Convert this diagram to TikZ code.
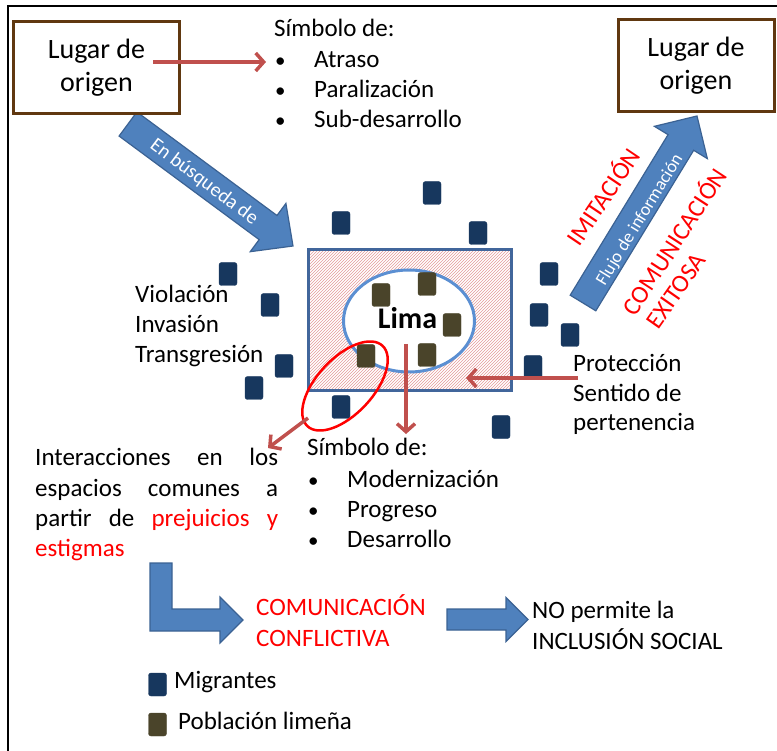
\documentclass[tikz,border=0pt]{standalone}
\usepackage{fontspec}
\setmainfont{Carlito}
\usetikzlibrary{arrows.meta,patterns,calc,shapes.geometric}
\definecolor{boxbrown}{HTML}{603810}
\definecolor{arrowblue}{HTML}{4F81BD}
\definecolor{arrowedge}{HTML}{3B6293}
\definecolor{navy}{HTML}{17375E}
\definecolor{olivebrown}{HTML}{4A442A}
\definecolor{darrow}{HTML}{C0504D}
\definecolor{hatchred}{HTML}{E39A9A}
\definecolor{limaedge}{HTML}{41669B}
\definecolor{ringblue}{HTML}{5B8FD2}
\newcommand{\blockarr}[5]{%
  \coordinate (#2b) at ($(#2)!#5!(#1)$);
  \filldraw[bigarrow] ($(#1)!#3!90:(#2)$) -- ($(#2b)!#3!90:(#2)$) -- ($(#2b)!#4!90:(#2)$) -- (#2)
     -- ($(#2b)!#4!-90:(#2)$) -- ($(#2b)!#3!-90:(#2)$) -- ($(#1)!#3!-90:(#2)$) -- cycle;}
\begin{document}
\begin{tikzpicture}[x=1pt,y=-1pt,font=\fontsize{25}{30}\selectfont,
  txt/.style={inner sep=0pt,anchor=base west},
  bul/.style={inner sep=0pt,anchor=base west,font=\fontsize{21}{25}\selectfont},
  origbox/.style={draw=boxbrown,line width=3pt,fill=white,align=center,inner sep=0pt,
    minimum width=#1,minimum height=92pt,font=\fontsize{28}{33}\selectfont},
  bigarrow/.style={fill=arrowblue,draw=arrowedge,line width=1.2pt,line join=miter},
  redarr/.style={draw=darrow,line width=3.5pt,-{Straight Barb[length=8pt,width=18pt]}},
  migsq/.style={fill=navy,draw=navy,rounded corners=2.5pt,minimum width=18pt,minimum height=23pt,inner sep=0pt},
  limsq/.style={fill=olivebrown,draw=olivebrown,rounded corners=2.5pt,minimum width=18pt,minimum height=23pt,inner sep=0pt},
  redtxt/.style={text=red,inner sep=0pt}]
\useasboundingbox (0,0) rectangle (777,751);
\draw[line width=2pt] (8,751) -- (8,6) -- (777,6);

% blue arrows
\coordinate (a1t) at (128,124);
\coordinate (a1h) at (293,246);
\blockarr{a1t}{a1h}{15pt}{30pt}{31pt}
\node[text=white,rotate=-37,font=\fontsize{20}{24}\selectfont,inner sep=0pt] (busq) at (204,182) {En búsqueda de};
\coordinate (a2t) at (583,303);
\coordinate (a2h) at (697,116);
\blockarr{a2t}{a2h}{15pt}{31pt}{31pt}
\node[text=white,rotate=58.6,font=\fontsize{18}{22}\selectfont,inner sep=0pt] (flujo) at (640,220) {Flujo de información};

% boxes
\node[origbox=166pt] (lo) at (96.5,67.5) {Lugar de\\origen};
\node[origbox=156pt] (ro) at (696,65.5) {Lugar de\\origen};

% top list
\node[txt] (s1) at (274,37) {Símbolo de:};
\node[bul] (b1) at (275,68) {•};
\node[txt] (i1) at (314,68) {Atraso};
\node[bul] (b2) at (275,98) {•};
\node[txt] (i2) at (314,98) {Paralización};
\node[bul] (b3) at (275,128) {•};
\node[txt] (i3) at (314,128) {Sub-desarrollo};
\coordinate (r1s) at (153,62);
\coordinate (r1e) at (266,62);
\draw[redarr] (r1s) -- (r1e);

% Lima area
\node[draw=limaedge,line width=3pt,pattern=north east lines,pattern color=hatchred,
  minimum width=203pt,minimum height=141pt,inner sep=0pt] (area) at (410,320) {};
\node[ellipse,draw=ringblue,line width=3pt,fill=white,minimum width=131pt,minimum height=102pt,inner sep=0pt] (ring) at (409,321) {};
\node[limsq] (l1) at (381,295) {};
\node[limsq] (l2) at (427,284) {};
\node[limsq] (l3) at (452,325) {};
\node[limsq] (l4) at (366,356) {};
\node[limsq] (l5) at (427,355) {};
\node[font=\fontsize{30}{36}\selectfont\bfseries,inner sep=0pt,anchor=base] (lima) at (407.5,329) {Lima};

% migrants
\node[migsq] (m1) at (432,193) {};
\node[migsq] (m2) at (341,223) {};
\node[migsq] (m3) at (478,233) {};
\node[migsq] (m4) at (228,274) {};
\node[migsq] (m5) at (270,305) {};
\node[migsq] (m6) at (549,274) {};
\node[migsq] (m7) at (539,315) {};
\node[migsq] (m8) at (570,335) {};
\node[migsq] (m9) at (284,366) {};
\node[migsq] (m10) at (254,388) {};
\node[migsq] (m11) at (341,407) {};
\node[migsq] (m12) at (533,367) {};
\node[migsq] (m13) at (501,427) {};

% red rotated texts
\node[redtxt,rotate=56] (imit) at (602,196) {IMITACIÓN};
\node[redtxt,rotate=57] (comex) at (673,241) {COMUNICACIÓN};
\node[redtxt,rotate=55] (exit) at (676,291) {EXITOSA};

% left texts
\node[txt] (v1) at (135,303) {Violación};
\node[txt] (v2) at (135,333) {Invasión};
\node[txt] (v3) at (135,363) {Transgresión};

% right texts
\node[txt] (p1) at (573,372) {Protección};
\node[txt] (p2) at (573,402) {Sentido de};
\node[txt] (p3) at (573,431) {pertenencia};
\coordinate (r3s) at (578,378);
\coordinate (r3e) at (466,378);
\draw[redarr] (r3s) -- (r3e);

% red ellipse and arrows
\coordinate (ec) at (345,386);
\draw[red,line width=2.5pt,rotate around={47:(ec)}] (ec) ellipse [x radius=55, y radius=28];
\coordinate (r2s) at (308,418);
\coordinate (r2e) at (268,448);
\draw[redarr] (r2s) -- (r2e);
\coordinate (r4s) at (406,344);
\coordinate (r4e) at (406,434);
\draw[redarr] (r4s) -- (r4e);

% lower list
\node[txt] (s2) at (307,455) {Símbolo de:};
\node[bul] (c1) at (308,487) {•};
\node[txt] (j1) at (347,487) {Modernización};
\node[bul] (c2) at (308,517) {•};
\node[txt] (j2) at (347,517) {Progreso};
\node[bul] (c3) at (308,547) {•};
\node[txt] (j3) at (347,547) {Desarrollo};

% interactions paragraph
\node[txt] (t1) at (35,465) {\makebox[243pt][s]{Interacciones en los}};
\node[txt] (t2) at (35,496) {\makebox[243pt][s]{espacios comunes a}};
\node[txt] (t3) at (35,526) {\makebox[243pt][s]{partir de \textcolor{red}{prejuicios} \textcolor{red}{y}}};
\node[txt,text=red] (t4) at (35,556) {estigmas};

% bottom flow
\filldraw[bigarrow] (150,563) -- (172,563) -- (172,609) -- (220,609) -- (220,597) -- (243,620)
  -- (220,643) -- (220,631) -- (150,631) -- cycle;
\node[txt,text=red] (cc1) at (256,615) {COMUNICACIÓN};
\node[txt,text=red] (cc2) at (256,646) {CONFLICTIVA};
\coordinate (a3t) at (447,619.5);
\coordinate (a3h) at (528,619.5);
\blockarr{a3t}{a3h}{10.5pt}{22pt}{22pt}
\node[txt] (n1) at (532,618) {NO permite la};
\node[txt] (n2) at (532,649) {INCLUSIÓN SOCIAL};

% legend
\node[migsq] (lg1) at (157.5,684.5) {};
\node[txt] (lgt1) at (174,688) {Migrantes};
\node[limsq] (lg2) at (157.5,724.5) {};
\node[txt] (lgt2) at (178,729) {Población limeña};
\end{tikzpicture}
\end{document}
